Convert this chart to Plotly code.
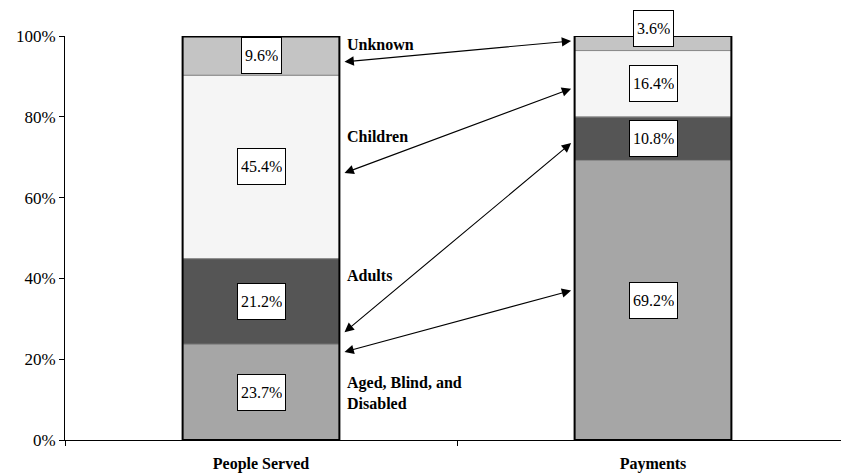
import plotly.graph_objects as go

categories = ["People Served", "Payments"]
groups = ["Aged, Blind, and<br>Disabled", "Adults", "Children", "Unknown"]
people_served = [23.7, 21.2, 45.4, 9.6]
payments = [69.2, 10.8, 16.4, 3.6]
colors = ["#a6a6a6", "#555555", "#f5f5f5", "#c4c4c4"]
ytick_vals = [0, 20, 40, 60, 80, 100]
ytick_text = ["0%", "20%", "40%", "60%", "80%", "100%"]

# arrow endpoints (percent on left bar edge, percent on right bar edge)
arrow_left = [21.8, 26.7, 66.1, 93.6]
arrow_right = [37.1, 73.8, 87.1, 98.8]
# group label positions (percent)
label_y = [11.6, 40.6, 75.2, 98.0]

series = [people_served, payments]
BW = 0.4
fig = go.Figure()

# segments
for gi, g in enumerate(groups):
    bases, vals = [], []
    for s in series:
        bases.append(sum(s[:gi]))
        vals.append(s[gi])
    fig.add_trace(go.Bar(
        x=categories, y=vals, base=bases, width=BW,
        marker=dict(color=colors[gi], line=dict(color="#8c8c8c", width=1)),
        showlegend=False, hoverinfo="skip"))

# outer outline
fig.add_trace(go.Bar(
    x=categories, y=[sum(s) for s in series], base=[0, 0], width=BW,
    marker=dict(color="rgba(0,0,0,0)", line=dict(color="black", width=2)),
    showlegend=False, hoverinfo="skip"))

annotations = []
# value labels
for ci, s in enumerate(series):
    cum = 0
    for gi, v in enumerate(s):
        mid = cum + v / 2
        cum += v
        yshift = 0
        if v < 5:
            mid = cum
            yshift = 8
        annotations.append(dict(
            x=ci, y=mid, xref="x", yref="y", text=f"{v:.1f}%", showarrow=False,
            yshift=yshift,
            font=dict(family="Liberation Serif", size=16, color="black"),
            bgcolor="white", bordercolor="black", borderwidth=1, borderpad=3,
            height=29))

# group labels
for gi, g in enumerate(groups):
    annotations.append(dict(
        x=0.215, y=label_y[gi], xref="x", yref="y", text=f"<b>{g}</b>",
        showarrow=False, xanchor="left", yanchor="middle", align="left",
        font=dict(family="Liberation Serif", size=16, color="black")))

# double-headed arrows
for gi in range(len(groups)):
    annotations.append(dict(
        x=0.213, y=arrow_left[gi], xref="x", yref="y",
        ax=0.795, ay=arrow_right[gi], axref="x", ayref="y",
        text="", showarrow=True, arrowhead=2, arrowside="end+start",
        arrowsize=1.7, arrowwidth=1.1, arrowcolor="black",
        standoff=0, startstandoff=0))

fig.update_layout(
    barmode="overlay",
    width=841, height=466,
    margin=dict(l=57, r=0, t=28, b=34),
    paper_bgcolor="white", plot_bgcolor="white",
    annotations=annotations,
    xaxis=dict(
        type="category", range=[-0.5, 1.5], showgrid=False,
        showline=True, linecolor="black", linewidth=1,
        ticks="outside", ticklen=5, tickcolor="black", tickson="boundaries",
        ticklabelstandoff=9,
        tickfont=dict(family="Liberation Serif", size=16, color="black", weight="bold"),
    ),
    yaxis=dict(
        range=[0, 100], tickvals=ytick_vals, ticktext=ytick_text,
        showgrid=False, zeroline=False,
        showline=True, linecolor="black", linewidth=1,
        ticks="outside", ticklen=5, tickcolor="black",
        tickfont=dict(family="Liberation Serif", size=17, color="black"),
    ),
)

fig.write_html("out.html")
